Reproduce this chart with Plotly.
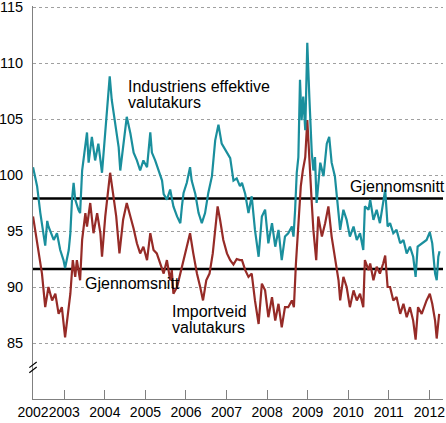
import plotly.graph_objects as go

# Industriens effektive valutakurs (teal)
ind_x = [2002.23, 2002.33, 2002.41, 2002.49, 2002.53, 2002.58, 2002.61, 2002.74, 2002.82, 2002.90,
         2002.98, 2003.02, 2003.11, 2003.15, 2003.19, 2003.23, 2003.27, 2003.35, 2003.39, 2003.44,
         2003.48, 2003.52, 2003.56, 2003.60, 2003.68, 2003.76, 2003.84, 2003.93, 2003.97, 2004.05,
         2004.12, 2004.17, 2004.26, 2004.34, 2004.38, 2004.46, 2004.54, 2004.63, 2004.71, 2004.79,
         2004.87, 2004.95, 2005.04, 2005.12, 2005.16, 2005.24, 2005.32, 2005.41, 2005.45, 2005.53,
         2005.61, 2005.69, 2005.78, 2005.86, 2005.90, 2005.94, 2006.02, 2006.10, 2006.14, 2006.23,
         2006.31, 2006.39, 2006.47, 2006.55, 2006.64, 2006.72, 2006.80, 2006.88, 2007.01, 2007.09,
         2007.17, 2007.25, 2007.33, 2007.38, 2007.46, 2007.54, 2007.62, 2007.70, 2007.79, 2007.87,
         2007.95, 2008.03, 2008.12, 2008.20, 2008.28, 2008.36, 2008.44, 2008.52, 2008.61, 2008.65,
         2008.69, 2008.73, 2008.77, 2008.81, 2008.85, 2008.89, 2008.94, 2008.99, 2009.04, 2009.10,
         2009.14, 2009.18, 2009.22, 2009.31, 2009.39, 2009.47, 2009.53, 2009.59, 2009.67, 2009.76,
         2009.80, 2009.88, 2009.96, 2010.04, 2010.13, 2010.21, 2010.29, 2010.37, 2010.41, 2010.50,
         2010.54, 2010.62, 2010.70, 2010.78, 2010.86, 2010.91, 2010.97, 2011.03, 2011.11, 2011.19,
         2011.28, 2011.36, 2011.44, 2011.52, 2011.60, 2011.66, 2011.71, 2011.81, 2011.93, 2012.01,
         2012.07, 2012.14, 2012.18, 2012.22, 2012.25]
ind_y = [100.7, 99.0, 96.6, 94.5, 93.7, 95.9, 95.4, 94.2, 94.8, 93.3,
         92.4, 91.7, 93.3, 94.8, 97.8, 99.3, 97.8, 96.9, 96.6, 100.4,
         101.6, 102.8, 103.8, 101.1, 103.4, 101.3, 102.8, 100.2, 102.0, 105.2,
         108.8, 106.7, 104.3, 102.5, 100.4, 103.1, 105.2, 103.7, 102.0, 101.3,
         100.4, 101.3, 100.7, 103.8, 102.0, 101.3, 100.4, 99.5, 98.3, 97.8,
         98.7, 97.2, 96.3, 95.7, 97.2, 98.4, 99.3, 100.7, 99.5, 98.3,
         96.6, 95.7, 96.6, 98.4, 99.9, 103.1, 104.5, 102.8, 102.0, 101.5,
         99.5, 99.7, 99.0, 99.3, 98.3, 96.6, 98.1, 95.1, 92.7, 96.3,
         96.9, 93.9, 95.7, 93.6, 95.1, 92.4, 94.5, 94.8, 95.4, 94.5,
         96.9, 100.2, 101.6, 108.5, 104.9, 107.0, 104.0, 111.8, 107.0, 102.0,
         100.4, 101.6, 97.5, 101.1, 99.9, 102.8, 103.4, 101.1, 99.9, 96.2,
         95.1, 96.9, 96.0, 94.5, 95.4, 94.2, 94.8, 93.3, 97.2, 96.9,
         97.8, 96.0, 96.9, 95.7, 97.8, 98.7, 95.4, 95.7, 94.8, 95.1,
         93.9, 94.2, 93.0, 93.6, 92.7, 90.9, 93.6, 93.9, 94.2, 94.9,
         93.9, 91.2, 90.6, 92.7, 93.2]

# Importveid valutakurs (dark red)
imp_x = [2002.23, 2002.29, 2002.37, 2002.45, 2002.53, 2002.61, 2002.70, 2002.78, 2002.86, 2002.94,
         2003.02, 2003.08, 2003.15, 2003.21, 2003.27, 2003.31, 2003.39, 2003.44, 2003.52, 2003.56,
         2003.64, 2003.72, 2003.81, 2003.89, 2003.93, 2004.01, 2004.09, 2004.13, 2004.20, 2004.28,
         2004.36, 2004.45, 2004.54, 2004.63, 2004.71, 2004.79, 2004.87, 2004.95, 2005.04, 2005.12,
         2005.20, 2005.28, 2005.36, 2005.45, 2005.53, 2005.61, 2005.65, 2005.69, 2005.78, 2005.86,
         2005.94, 2006.02, 2006.10, 2006.18, 2006.27, 2006.35, 2006.42, 2006.50, 2006.58, 2006.66,
         2006.72, 2006.78, 2006.84, 2006.92, 2007.01, 2007.09, 2007.17, 2007.25, 2007.33, 2007.38,
         2007.46, 2007.54, 2007.62, 2007.70, 2007.79, 2007.87, 2007.95, 2008.03, 2008.12, 2008.20,
         2008.28, 2008.36, 2008.44, 2008.52, 2008.61, 2008.66, 2008.71, 2008.77, 2008.83, 2008.88,
         2008.94, 2008.99, 2009.04, 2009.10, 2009.14, 2009.21, 2009.26, 2009.35, 2009.43, 2009.51,
         2009.59, 2009.67, 2009.76, 2009.80, 2009.88, 2009.96, 2010.04, 2010.13, 2010.21, 2010.29,
         2010.37, 2010.41, 2010.50, 2010.54, 2010.62, 2010.70, 2010.78, 2010.86, 2010.91, 2010.97,
         2011.03, 2011.11, 2011.19, 2011.28, 2011.36, 2011.44, 2011.52, 2011.60, 2011.66, 2011.72,
         2011.81, 2011.93, 2012.01, 2012.07, 2012.14, 2012.18, 2012.24]
imp_y = [96.3, 94.8, 93.0, 91.2, 88.2, 90.0, 88.8, 89.4, 87.6, 88.2,
         85.5, 87.6, 89.4, 92.4, 90.9, 92.4, 90.6, 94.2, 96.6, 95.4,
         97.5, 94.8, 96.6, 94.8, 92.7, 96.3, 99.0, 100.2, 98.4, 96.3,
         93.0, 96.0, 97.5, 96.3, 95.2, 93.9, 93.0, 93.6, 92.4, 94.8,
         93.3, 93.0, 92.1, 91.2, 92.4, 90.6, 91.5, 89.4, 90.0, 91.2,
         92.4, 93.6, 94.8, 93.0, 91.2, 90.0, 88.8, 90.6, 91.2, 93.0,
         95.4, 97.2, 96.0, 94.2, 93.0, 92.4, 92.0, 92.5, 92.4, 92.4,
         91.5, 90.9, 91.2, 88.8, 86.7, 90.3, 89.7, 87.3, 89.1, 87.0,
         88.5, 86.4, 88.2, 88.2, 88.8, 88.2, 92.1, 95.1, 99.0, 100.4,
         101.6, 104.9, 101.1, 97.5, 95.1, 92.4, 96.3, 94.5, 95.7, 97.2,
         94.5, 92.7, 90.6, 88.8, 90.9, 90.0, 88.2, 89.7, 88.8, 89.4,
         88.2, 92.4, 91.5, 92.1, 90.6, 91.8, 91.2, 92.1, 92.8, 90.0,
         90.0, 88.8, 89.1, 87.6, 88.5, 87.3, 88.2, 87.0, 85.3, 88.2,
         87.6, 88.8, 89.4, 88.5, 87.0, 85.4, 87.6]

avg_ind = 97.9
avg_imp = 91.6

y_ticks = [85, 90, 95, 100, 105, 110, 115]
x_tickvals = [2002.23, 2003, 2004, 2005, 2006, 2007, 2008, 2009, 2010, 2011, 2012]
x_ticktext = ["2002", "2003", "2004", "2005", "2006", "2007", "2008", "2009", "2010", "2011", "2012"]

x_min, x_max = 2002.229, 2012.335
teal = "#1a8f9d"
red = "#962b27"
font = "Liberation Sans, Arial, sans-serif"

fig = go.Figure()
fig.add_trace(go.Scatter(x=[x_min, x_max], y=[avg_ind, avg_ind], mode="lines",
                         line=dict(color="black", width=2.5), hoverinfo="skip"))
fig.add_trace(go.Scatter(x=[x_min, x_max], y=[avg_imp, avg_imp], mode="lines",
                         line=dict(color="black", width=2.5), hoverinfo="skip"))
fig.add_trace(go.Scatter(x=imp_x, y=imp_y, mode="lines", line=dict(color=red, width=2.2)))
fig.add_trace(go.Scatter(x=ind_x, y=ind_y, mode="lines", line=dict(color=teal, width=2.2)))

ann = dict(showarrow=False, xanchor="left", yanchor="middle", align="left",
           font=dict(family=font, size=16, color="black"))
fig.add_annotation(x=2004.52, y=107.88, text="Industriens effektive", **ann)
fig.add_annotation(x=2004.52, y=106.5, text="valutakurs", **ann)
fig.add_annotation(x=2010.0, y=98.93, text="Gjennomsnitt", **ann)
fig.add_annotation(x=2003.46, y=90.34, text="Gjennomsnitt", **ann)
fig.add_annotation(x=2005.61, y=87.84, text="Importveid", **ann)
fig.add_annotation(x=2005.61, y=86.42, text="valutakurs", **ann)

# axis break marks
for dy in (0.0, 0.45):
    fig.add_shape(type="line", xref="paper", yref="y",
                  x0=-0.009, x1=0.009, y0=82.35 + dy, y1=82.85 + dy,
                  line=dict(color="black", width=1.2))

fig.update_layout(
    width=446, height=423,
    margin=dict(l=33, r=3, t=6, b=24),
    plot_bgcolor="white", paper_bgcolor="white",
    showlegend=False,
    font=dict(family=font, size=15, color="black"),
)
fig.update_xaxes(range=[x_min, x_max], tickvals=x_tickvals, ticktext=x_ticktext,
                 showgrid=False, zeroline=False, showline=True, linecolor="#808080", linewidth=1,
                 ticks="inside", ticklen=9, tickcolor="#808080", tickwidth=1,
                 tickangle=0, automargin=False, tickfont=dict(size=14), ticklabelstandoff=0,
                 ticklabeloverflow="allow")
fig.update_yaxes(range=[80, 115.09], tickvals=y_ticks, showgrid=True, gridcolor="#a0a0a0",
                 griddash="dot", gridwidth=1, zeroline=False, showline=True,
                 linecolor="#808080", linewidth=1, ticks="", tickfont=dict(size=14.5),
                 automargin=False, ticklabelstandoff=6, ticklabeloverflow="allow")

fig.write_html("out.html", config={"displayModeBar": False},
               post_script="document.body.style.margin='0px';document.body.style.overflow='hidden';")
